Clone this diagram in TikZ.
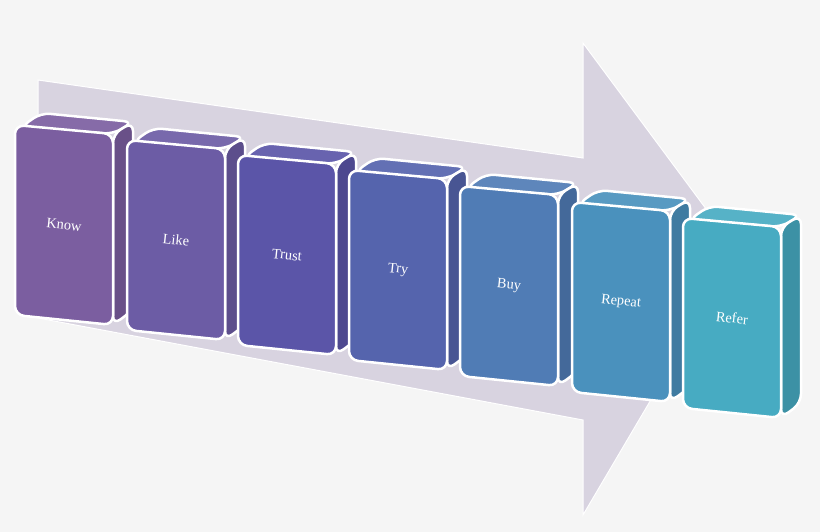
\documentclass[tikz,border=0pt]{standalone}
\usepackage{fontspec}
\setmainfont{Liberation Serif}
\definecolor{bgcol}{HTML}{F5F5F5}
\definecolor{arrowcol}{HTML}{D8D3E0}
\definecolor{cknow}{HTML}{7B5EA0}
\definecolor{clike}{HTML}{6C5CA5}
\definecolor{ctrust}{HTML}{5B55A8}
\definecolor{ctry}{HTML}{5564AD}
\definecolor{cbuy}{HTML}{507CB5}
\definecolor{crepeat}{HTML}{4A91BD}
\definecolor{crefer}{HTML}{47ABC2}
\tikzset{
	% ---- default
	every node/.style={font=\Large, text=white},
	% ---- custom
	face/.style={draw=white, line width=2.5pt, rounded corners=9pt, line join=round},
	big arrow/.style={fill=arrowcol, draw=white, line width=1pt},
}
\newcommand{\block}[5]{%
	\begin{scope}[shift={(#2,#3)}]
		\draw[face, fill=#4!92!white] (6,2) -- (26,-12) -- (118,-3) -- (98,9) -- cycle;
		\draw[face, fill=#4!85!black] (98,9) -- (118,-3) -- (118,185) -- (98,200) -- cycle;
		\draw[face, fill=#4] (0,0) -- (98,9) -- (98,200) -- (0,190) -- cycle;
		\node[rotate=-6] (#1) at (49,100) {#5};
	\end{scope}}

\begin{document}
\begin{tikzpicture}[x=1pt, y=-1pt]

% canvas %{{{2

	\fill[bgcol] (0,0) rectangle (820,532);
	\useasboundingbox (0,0) rectangle (820,532);

% arrow %{{{2

	\draw[big arrow] (38,80) -- (583,158) -- (583,43) -- (738,252)
		-- (583,515) -- (583,420) -- (38,318) -- cycle;

% blocks %{{{2

	\block{know}{15}{125}{cknow}{Know}
	\block{like}{127}{140}{clike}{Like}
	\block{trust}{238}{155}{ctrust}{Trust}
	\block{try}{349}{170}{ctry}{Try}
	\block{buy}{460}{186}{cbuy}{Buy}
	\block{repeat}{572}{202}{crepeat}{Repeat}
	\block{refer}{683}{218}{crefer}{Refer}

\end{tikzpicture}
\end{document}
